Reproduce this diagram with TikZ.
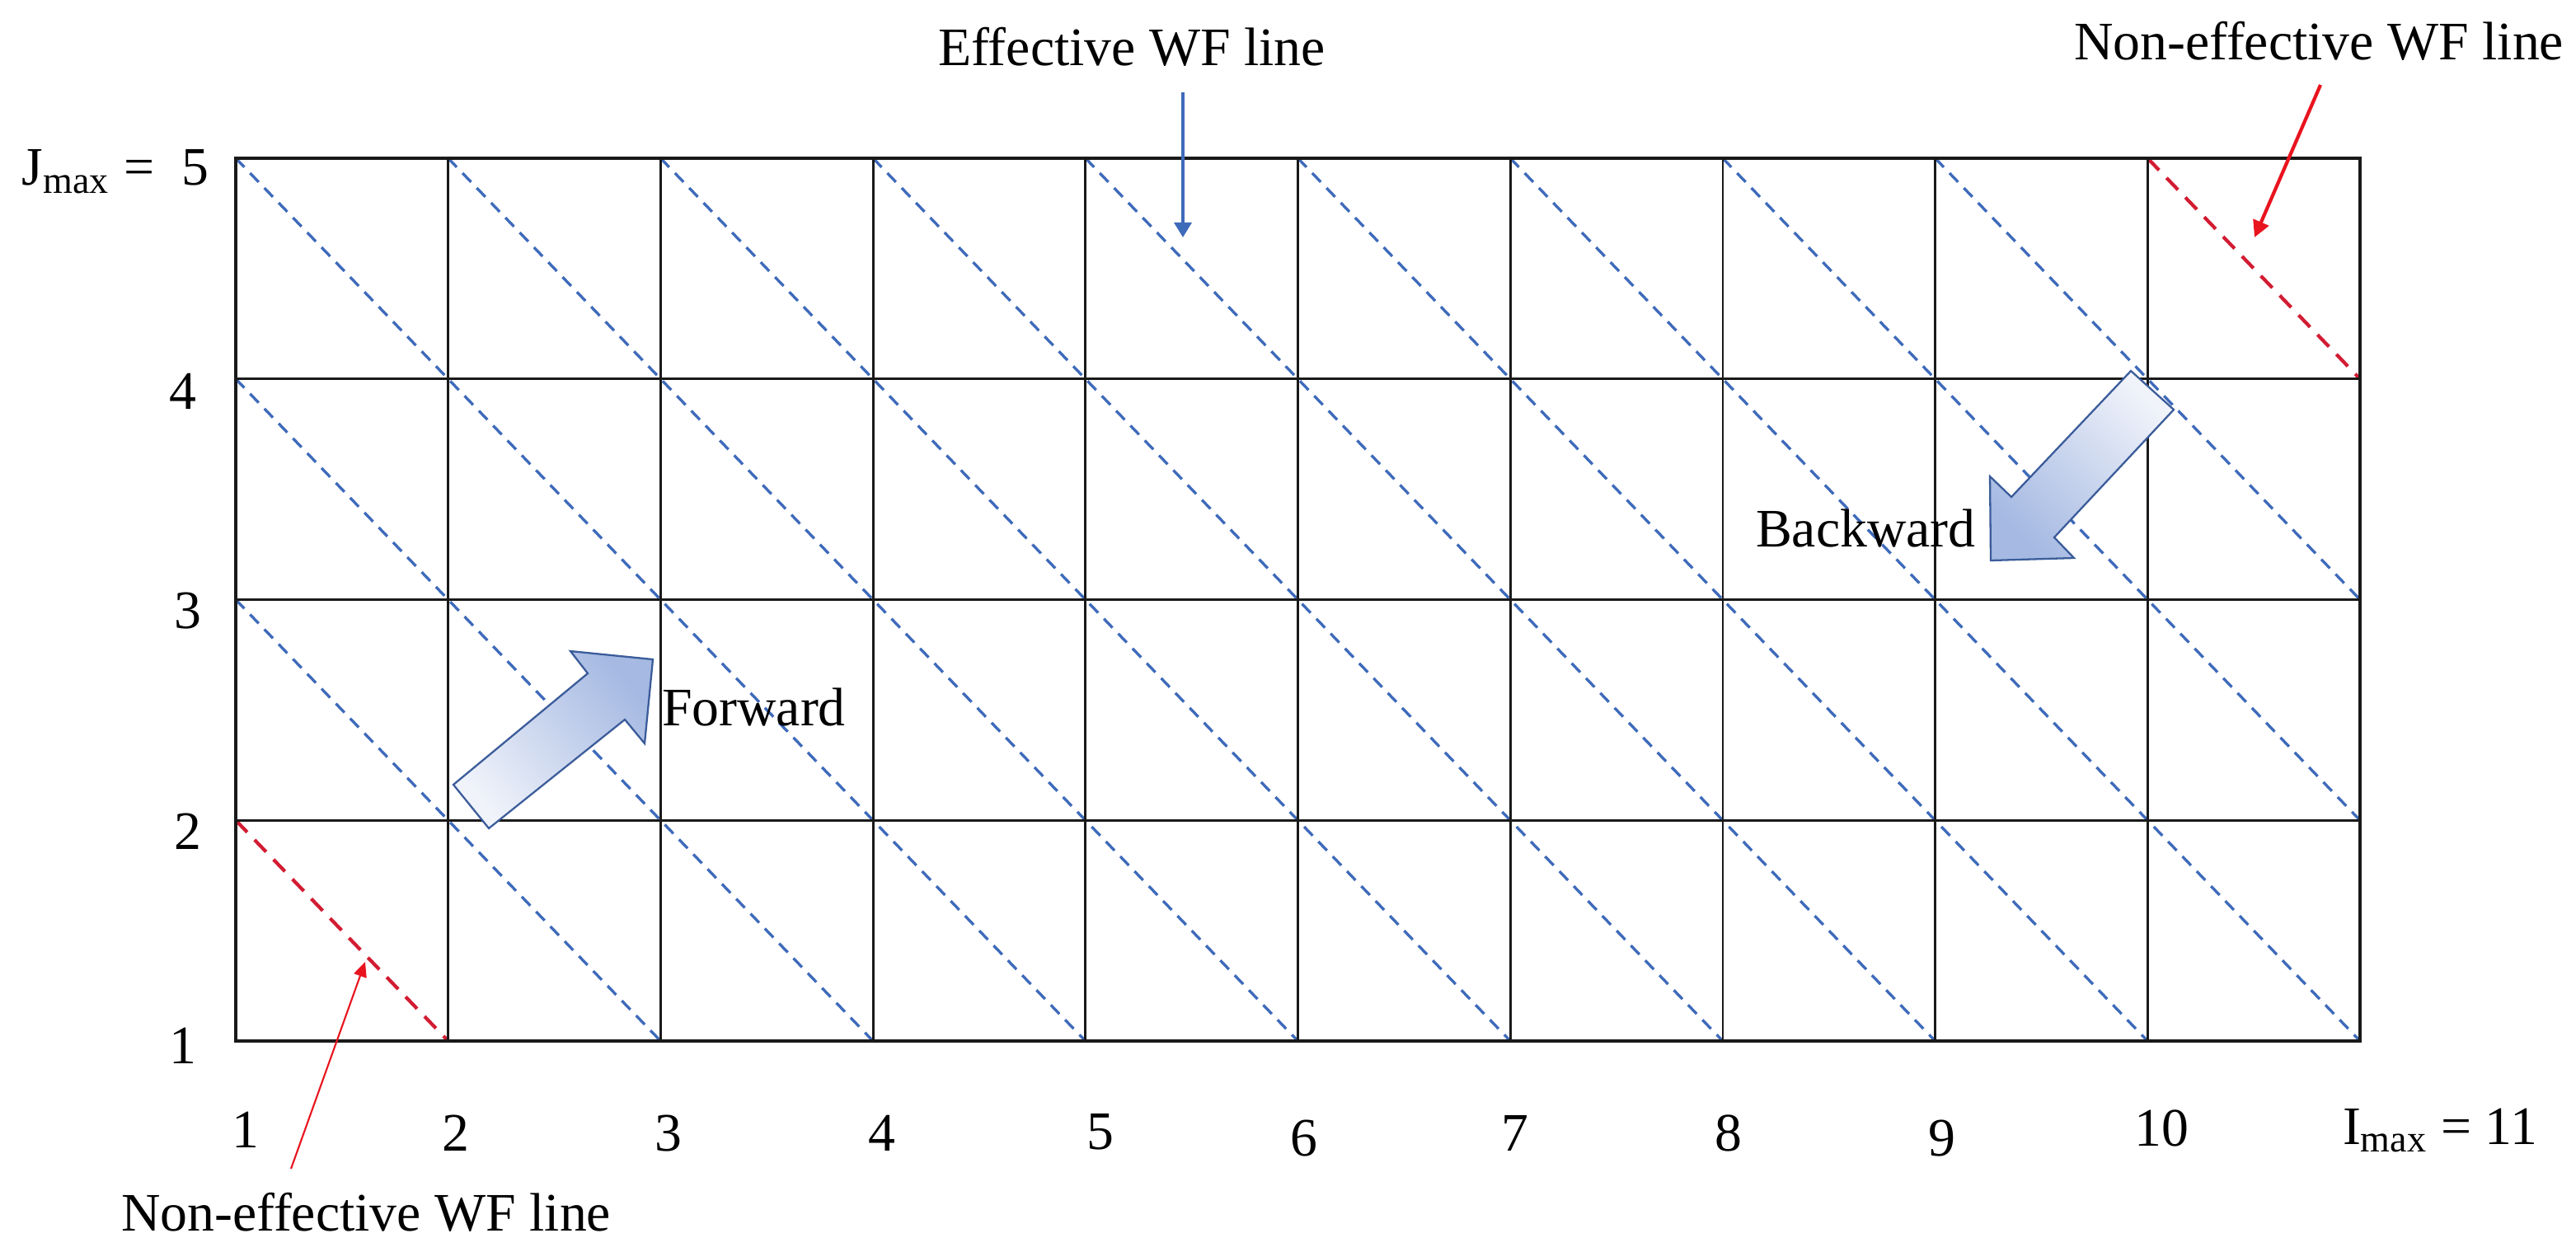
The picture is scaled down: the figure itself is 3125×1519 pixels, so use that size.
\documentclass[tikz,border=0pt]{standalone}
\usepackage{fontspec}
\setmainfont{Liberation Serif}
\usetikzlibrary{arrows.meta}
\definecolor{wfblue}{RGB}{62,106,186}
\definecolor{wfred}{RGB}{210,28,50}
\definecolor{ptred}{RGB}{232,20,30}
\definecolor{gridc}{RGB}{25,25,25}
\definecolor{arrowline}{RGB}{59,92,154}
\definecolor{arrowlight}{RGB}{240,243,250}
\definecolor{arrowdark}{RGB}{165,185,226}
\begin{document}
\begin{tikzpicture}[x=0.01cm,y=-0.01cm,
  lbl/.style={font=\fontsize{18.7}{22}\selectfont, inner sep=0pt, outer sep=0pt},
  gridline/.style={draw=gridc, line width=0.8pt},
  border/.style={draw=gridc, line width=1.05pt},
  effline/.style={draw=wfblue, line width=0.95pt, dash pattern=on 0.15cm off 0.1cm},
  noneffline/.style={draw=wfred, line width=1.2pt, dash pattern=on 0.2cm off 0.13cm},
  blockarrow/.style={draw=arrowline, line width=0.65pt, line join=miter, top color=arrowdark, bottom color=arrowlight},
  ptrblue/.style={draw=wfblue, line width=1pt, -{Triangle[width=0.21cm,length=0.18cm]}},
  ptrredthick/.style={draw=ptred, line width=1.2pt, -{Triangle[width=0.2cm,length=0.2cm]}},
  ptrredthin/.style={draw=ptred, line width=0.6pt, -{Triangle[width=0.16cm,length=0.18cm]}},
]
\useasboundingbox (0,0) rectangle (3125,1519);
\fill[white] (0,0) rectangle (3125,1519);

% grid points
\foreach \i in {1,...,11}
  \foreach \j in {1,...,5}
    \coordinate (g-\i-\j) at ({286+(\i-1)*257.7},{1263-(\j-1)*267.75});

% wavefront lines
\foreach \s in {4,...,14} {
  \pgfmathtruncatemacro\ia{max(1,\s-5)}
  \pgfmathtruncatemacro\ja{\s-\ia}
  \pgfmathtruncatemacro\ib{min(11,\s-1)}
  \pgfmathtruncatemacro\jb{\s-\ib}
  \draw[effline] (g-\ia-\ja) -- (g-\ib-\jb);
}
\draw[noneffline] (g-1-2) -- (g-2-1);
\draw[noneffline] (g-10-5) -- (g-11-4);

% grid
\foreach \i in {2,...,10} \draw[gridline] (g-\i-1) -- (g-\i-5);
\foreach \j in {2,...,4} \draw[gridline] (g-1-\j) -- (g-11-\j);
\draw[border] (g-1-1) rectangle (g-11-5);

% block arrows
\path[blockarrow, shading angle=-50] (550,952) -- (593,1005) -- (758,873) -- (782,902) -- (792,800) -- (692,790) -- (713,817) -- cycle;
\path[blockarrow, shading angle=135] (2585,450) -- (2637,497) -- (2492,652) -- (2516,677) -- (2415,680) -- (2414,578) -- (2440,603) -- cycle;

% labels
\node[lbl, anchor=base west] (fw) at (803,880) {Forward};
\node[lbl, anchor=base west] (bw) at (2130,663) {Backward};
\node[lbl, anchor=base west] (eff) at (1138,80) {Effective WF line};
\node[lbl, anchor=base west] (ne1) at (2516,73) {Non-effective WF line};
\node[lbl, anchor=base west] (ne2) at (147,1493) {Non-effective WF line};

% pointers
\coordinate (effs) at (1435,112);
\coordinate (efft) at (1435,288);
\draw[ptrblue] (effs) -- (efft);
\coordinate (ne1s) at (2815,103);
\coordinate (ne1t) at (2735,288);
\draw[ptrredthick] (ne1s) -- (ne1t);
\coordinate (ne2s) at (353,1418);
\coordinate (ne2t) at (443,1167);
\draw[ptrredthin] (ne2s) -- (ne2t);

% row labels
\node[lbl, anchor=base west] (jmax) at (27,225) {J\textsubscript{max} =\ \ 5};
\node[lbl, anchor=base] (r4) at (222,497) {4};
\node[lbl, anchor=base] (r3) at (228,762) {3};
\node[lbl, anchor=base] (r2) at (228,1030) {2};
\node[lbl, anchor=base] (r1) at (222,1290) {1};

% column labels
\node[lbl, anchor=base] (c1) at (298,1392) {1};
\node[lbl, anchor=base] (c2) at (553,1396) {2};
\node[lbl, anchor=base] (c3) at (811,1396) {3};
\node[lbl, anchor=base] (c4) at (1070,1396) {4};
\node[lbl, anchor=base] (c5) at (1335,1394) {5};
\node[lbl, anchor=base] (c6) at (1582,1402) {6};
\node[lbl, anchor=base] (c7) at (1838,1396) {7};
\node[lbl, anchor=base] (c8) at (2097,1396) {8};
\node[lbl, anchor=base] (c9) at (2356,1402) {9};
\node[lbl, anchor=base] (c10) at (2622,1390) {10};
\node[lbl, anchor=base west] (imax) at (2842,1388) {I\textsubscript{max} = 11};
\end{tikzpicture}
\end{document}
